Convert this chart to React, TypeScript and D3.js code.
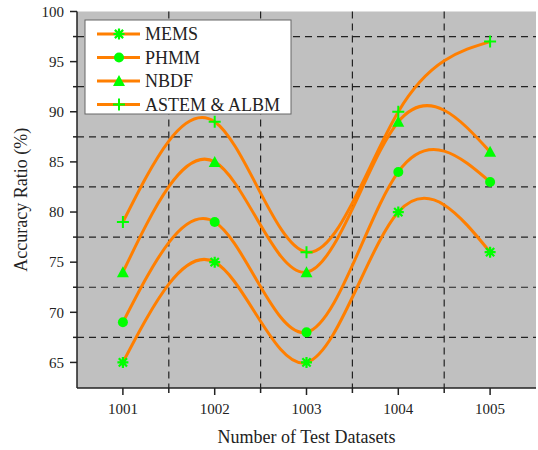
import React from "react";
import * as d3 from "d3";

const categories = [1001, 1002, 1003, 1004, 1005];
const seriesNames = ["MEMS", "PHMM", "NBDF", "ASTEM & ALBM"];
const mems = [65, 75, 65, 80, 76];
const phmm = [69, 79, 68, 84, 83];
const nbdf = [74, 85, 74, 89, 86];
const astem = [79, 89, 76, 90, 97];
const yTicks = [65, 70, 75, 80, 85, 90, 95, 100];
const yMinor = [67.5, 72.5, 77.5, 82.5, 87.5, 92.5, 97.5];
const xMinor = [1001.5, 1002.5, 1003.5, 1004.5];
const markers = ["asterisk", "circle", "triangle", "plus"];

const W = 538, H = 450;
const L = 77, R = 536, T = 11.5, B = 388;
const FONT = "'Liberation Serif', 'Times New Roman', serif";
const ORANGE = "#ff7f00";
const GREEN = "#00ff00";

function Marker({ type, x, y }: { type: string; x: number; y: number }) {
  if (type === "circle") return <circle cx={x} cy={y} r={5} fill={GREEN} />;
  if (type === "triangle")
    return <path d={`M${x},${y - 6}L${x + 6},${y + 5}L${x - 6},${y + 5}Z`} fill={GREEN} />;
  if (type === "plus")
    return <path d={`M${x - 6},${y}H${x + 6}M${x},${y - 6}V${y + 6}`} stroke={GREEN} strokeWidth={2} />;
  const s = 5.5;
  return (
    <path
      d={`M${x - s},${y}H${x + s}M${x},${y - s}V${y + s}M${x - s * 0.75},${y - s * 0.75}L${x + s * 0.75},${y + s * 0.75}M${x - s * 0.75},${y + s * 0.75}L${x + s * 0.75},${y - s * 0.75}`}
      stroke={GREEN}
      strokeWidth={2.2}
    />
  );
}

export default function App() {
  const x = d3.scaleLinear().domain([1000.5, 1005.5]).range([L, R]);
  const y = d3.scaleLinear().domain([62.45, 100]).range([B, T]);
  const series = [mems, phmm, nbdf, astem];
  const line = d3
    .line<number>()
    .x((_, i) => x(categories[i]))
    .y((d) => y(d))
    .curve(d3.curveNatural);

  return (
    <svg width={W} height={H} style={{ position: "absolute", left: 0, top: 0, background: "#fff" }}>
      <rect x={L} y={T} width={R - L} height={B - T} fill="#c0c0c0" />
      {yMinor.map((v) => (
        <line key={v} x1={L} x2={R} y1={y(v)} y2={y(v)} stroke="#222" strokeWidth={1.2} strokeDasharray="7,5" />
      ))}
      {xMinor.map((v) => (
        <line key={v} x1={x(v)} x2={x(v)} y1={T} y2={B} stroke="#222" strokeWidth={1.2} strokeDasharray="7,5" />
      ))}
      {series.map((s, i) => (
        <path key={i} d={line(s) || ""} fill="none" stroke={ORANGE} strokeWidth={3} />
      ))}
      {series.map((s, i) =>
        s.map((v, j) => <Marker key={`${i}-${j}`} type={markers[i]} x={x(categories[j])} y={y(v)} />)
      )}
      <line x1={L} x2={L} y1={T} y2={B} stroke="#222" strokeWidth={1.5} />
      <line x1={L} x2={R} y1={B} y2={B} stroke="#222" strokeWidth={1.5} />
      {yTicks.map((v) => (
        <g key={v}>
          <line x1={L - 7} x2={L} y1={y(v)} y2={y(v)} stroke="#222" strokeWidth={1.5} />
          <text x={L - 13} y={y(v)} dy="0.35em" textAnchor="end" fontFamily={FONT} fontSize={15} fill="#222">
            {v}
          </text>
        </g>
      ))}
      {yMinor.map((v) => (
        <line key={v} x1={L - 4} x2={L} y1={y(v)} y2={y(v)} stroke="#222" strokeWidth={1.5} />
      ))}
      {categories.map((c) => (
        <g key={c}>
          <line x1={x(c)} x2={x(c)} y1={B} y2={B + 7} stroke="#222" strokeWidth={1.5} />
          <text x={x(c)} y={B + 26} textAnchor="middle" fontFamily={FONT} fontSize={15} fill="#222">
            {c}
          </text>
        </g>
      ))}
      {xMinor.map((v) => (
        <line key={v} x1={x(v)} x2={x(v)} y1={B} y2={B + 5} stroke="#222" strokeWidth={1.5} />
      ))}
      <text
        transform={`translate(27,${(T + B) / 2}) rotate(-90)`}
        textAnchor="middle"
        fontFamily={FONT}
        fontSize={18}
        fill="#222"
      >
        Accuracy Ratio (%)
      </text>
      <text x={(L + R) / 2} y={443} textAnchor="middle" fontFamily={FONT} fontSize={18} fill="#222">
        Number of Test Datasets
      </text>
      <rect x={85} y={20} width={206} height={94} fill="#fff" stroke="#666" strokeWidth={1} />
      {seriesNames.map((n, i) => {
        const ly = 34 + i * 23.5;
        return (
          <g key={n}>
            <line x1={97} x2={140} y1={ly} y2={ly} stroke={ORANGE} strokeWidth={3} />
            <Marker type={markers[i]} x={119} y={ly} />
            <text x={145} y={ly} dy="0.35em" fontFamily={FONT} fontSize={18} fill="#222">
              {n}
            </text>
          </g>
        );
      })}
    </svg>
  );
}
